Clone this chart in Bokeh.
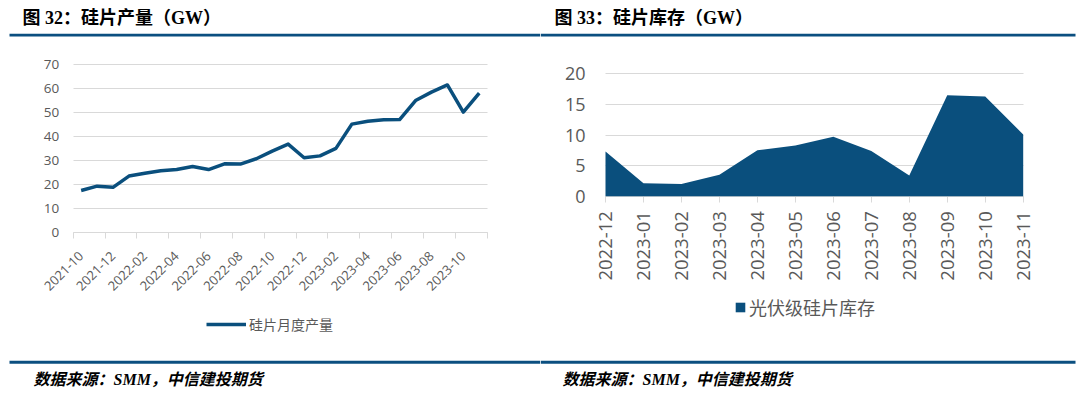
from math import pi
from bokeh.plotting import figure
from bokeh.layouts import row
from bokeh.models import (FixedTicker, Label, BoxAnnotation, Legend, LegendItem,
                          Range1d, ColumnDataSource)
from bokeh.embed import file_html
from bokeh.resources import INLINE

# ---------------- data ----------------
prod_months = ["2021-10", "2021-11", "2021-12", "2022-01", "2022-02", "2022-03",
               "2022-04", "2022-05", "2022-06", "2022-07", "2022-08", "2022-09",
               "2022-10", "2022-11", "2022-12", "2023-01", "2023-02", "2023-03",
               "2023-04", "2023-05", "2023-06", "2023-07", "2023-08", "2023-09",
               "2023-10", "2023-11"]
prod_values = [17.6, 19.4, 18.9, 23.6, 24.8, 25.8, 26.3, 27.6, 26.3, 28.7,
               28.6, 30.8, 34.0, 36.9, 31.2, 32.0, 35.1, 45.2, 46.4, 47.0,
               47.1, 55.0, 58.5, 61.5, 50.2, 58.1]
prod_yticks = [0, 10, 20, 30, 40, 50, 60, 70]

inv_months = ["2022-12", "2023-01", "2023-02", "2023-03", "2023-04", "2023-05",
              "2023-06", "2023-07", "2023-08", "2023-09", "2023-10", "2023-11"]
inv_values = [7.3, 2.1, 2.0, 3.5, 7.5, 8.3, 9.7, 7.4, 3.4, 16.5, 16.3, 10.1]
inv_yticks = [0, 5, 10, 15, 20]

prod_title = "图 32：硅片产量（GW）"
inv_title = "图 33：硅片库存（GW）"
prod_legend = "硅片月度产量"
inv_legend = "光伏级硅片库存"
source_text = "数据来源：SMM，中信建投期货"

# ---------------- style ----------------
W, H = 540, 396
BLUE = "#0A4F7D"
RULE = "#0B4F80"
GRID = "#D9D9D9"
TXT = "#595959"
FONT = "Open Sans, Noto Sans CJK SC"
HFONT = "Liberation Serif, Noto Sans CJK SC"


def span_range(lo, hi, px_lo, px_hi, size, flip=False):
    """Range whose values lo/hi land at pixel px_lo/px_hi of a frame of `size` px
    (pixels counted from the left, or from the top when flip=True)."""
    if flip:
        px_lo, px_hi = size - px_lo, size - px_hi
    k = (px_hi - px_lo) / (hi - lo)
    return Range1d(lo - px_lo / k, hi + (size - px_hi) / k)


def make_fig(x_range, y_range):
    p = figure(width=W, height=H, output_backend="svg", toolbar_location=None,
               x_range=x_range, y_range=y_range, min_border=0,
               min_border_left=0, min_border_right=0, min_border_top=0,
               min_border_bottom=0)
    p.outline_line_color = None
    p.background_fill_color = "white"
    p.border_fill_color = "white"
    p.grid.grid_line_color = None
    p.yaxis.axis_line_color = None
    p.yaxis.major_tick_out = 0
    p.yaxis.major_tick_line_color = GRID
    p.yaxis.minor_tick_line_color = None
    p.yaxis.major_label_text_color = TXT
    p.yaxis.major_label_text_font = FONT
    p.xaxis.axis_line_color = GRID
    p.xaxis.axis_line_width = 1
    p.xaxis.major_tick_line_color = GRID
    p.xaxis.minor_tick_line_color = GRID
    p.xaxis.major_label_text_color = TXT
    p.xaxis.major_label_text_font = FONT
    return p


def decorate(p, title, title_x, rule_l, rule_r, source_x):
    p.add_layout(Label(x=title_x, y=H - 17, x_units="screen", y_units="screen",
                       text=title, text_font=HFONT, text_font_size="18px",
                       text_font_style="bold", text_color="#000000",
                       text_baseline="middle", text_align="left"))
    for (t, b) in ((H - 33.3, H - 36.0), (H - 360.3, H - 363.3)):
        p.add_layout(BoxAnnotation(left=rule_l, right=rule_r, top=t, bottom=b,
                                   left_units="screen", right_units="screen",
                                   top_units="screen", bottom_units="screen",
                                   fill_color=RULE, fill_alpha=1.0, line_alpha=0,
                                   level="annotation"))
    p.add_layout(Label(x=source_x, y=H - 379, x_units="screen", y_units="screen",
                       text=source_text, text_font=HFONT, text_font_size="16px",
                       text_font_style="bold italic", text_color="#000000",
                       text_baseline="middle", text_align="left"))


# ---------------- left: production line ----------------
n1 = len(prod_values)
src1 = ColumnDataSource(dict(x=list(range(n1)), y=prod_values))
p1 = make_fig(span_range(-0.5, n1 - 0.5, 72.7, 486.7, W),
              span_range(0, 70, 232.3, 64.0, H, flip=True))
r1 = p1.line("x", "y", source=src1, line_color=BLUE, line_width=3.5,
             line_join="round", level="overlay")
label_idx = list(range(0, n1, 2))
p1.xaxis.fixed_location = 0
p1.xaxis.bounds = (-0.5, n1 - 0.5)
p1.xaxis.ticker = FixedTicker(ticks=label_idx,
                              minor_ticks=[i - 0.5 for i in range(0, n1 + 1, 2)])
p1.xaxis.major_label_overrides = {i: prod_months[i] for i in label_idx}
p1.xaxis.major_tick_out = 0
p1.xaxis.major_tick_in = 0
p1.xaxis.minor_tick_out = 6
p1.xaxis.minor_tick_in = 0
p1.xaxis.major_label_orientation = pi / 4
p1.xaxis.major_label_text_font_size = "13px"
p1.xaxis.major_label_standoff = 15
p1.yaxis.fixed_location = -0.5
p1.yaxis.bounds = (0, 70)
p1.yaxis.ticker = FixedTicker(ticks=prod_yticks)
p1.yaxis.major_tick_in = 414          # horizontal grid lines across the chart width
p1.yaxis.major_label_text_font_size = "13.5px"
p1.yaxis.major_label_standoff = 14
leg1 = Legend(items=[LegendItem(label=prod_legend, renderers=[r1])],
              location=(206, H - 334), orientation="horizontal",
              glyph_width=40, glyph_height=14, label_height=14, label_standoff=3,
              label_text_font=FONT, label_text_font_size="14px",
              label_text_color=TXT, padding=0, margin=0, spacing=0,
              border_line_alpha=0, background_fill_alpha=0)
p1.add_layout(leg1, "center")
decorate(p1, prod_title, 22, 9, 540, 33)

# ---------------- right: inventory area ----------------
n2 = len(inv_values)
src2 = ColumnDataSource(dict(x=list(range(n2)), y=inv_values))
p2 = make_fig(span_range(0, n2 - 1, 65.0, 482.7, W),
              span_range(0, 20, 195.7, 73.3, H, flip=True))
r2 = p2.varea(x="x", y1=0, y2="y", source=src2, fill_color=BLUE, level="overlay")
p2.xaxis.fixed_location = 0
p2.xaxis.bounds = (0, n2 - 1)
p2.xaxis.ticker = FixedTicker(ticks=list(range(n2)))
p2.xaxis.major_label_overrides = {i: inv_months[i] for i in range(n2)}
p2.xaxis.major_tick_out = 6
p2.xaxis.major_tick_in = 0
p2.xaxis.minor_tick_line_color = None
p2.xaxis.major_label_orientation = pi / 2
p2.xaxis.major_label_text_font_size = "18.5px"
p2.xaxis.major_label_standoff = 9
p2.yaxis.fixed_location = 0
p2.yaxis.bounds = (0, 20)
p2.yaxis.ticker = FixedTicker(ticks=inv_yticks)
p2.yaxis.major_tick_in = 418          # horizontal grid lines across the chart width
p2.yaxis.major_label_text_font_size = "18px"
p2.yaxis.major_label_standoff = 20
leg2 = Legend(items=[LegendItem(label=inv_legend, renderers=[r2])],
              location=(194, H - 320), orientation="horizontal",
              glyph_width=12, glyph_height=12, label_height=12, label_standoff=3,
              label_text_font=FONT, label_text_font_size="18px",
              label_text_color=TXT, padding=0, margin=0, spacing=0,
              border_line_alpha=0, background_fill_alpha=0)
p2.add_layout(leg2, "center")
decorate(p2, inv_title, 14, 0, 535, 22)

layout = row(p1, p2)
open("out.html", "w").write(file_html(layout, INLINE))
